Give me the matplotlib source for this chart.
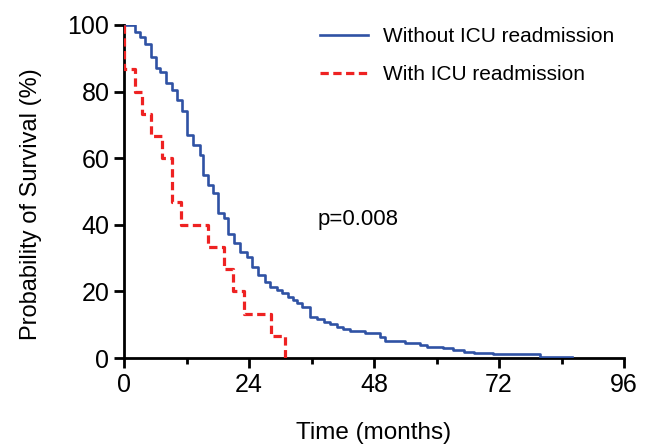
import matplotlib.pyplot as plt

plt.rcParams['font.family'] = ['Liberation Sans', 'DejaVu Sans']

# Kaplan-Meier steps (time in months, survival in %)
t_without = [0, 2.1, 3.1, 4.0, 5.1, 6.1, 7.0, 8.1, 9.2, 10.1, 11.1, 12.0, 13.3, 14.5,
             15.2, 16.2, 17.1, 18.0, 19.1, 20.0, 21.1, 22.3, 23.6, 24.5, 25.8, 27.1,
             28.0, 29.3, 30.3, 31.5, 32.5, 33.2, 34.1, 35.8, 37.0, 38.3, 39.6, 40.8,
             42.1, 43.4, 46.3, 49.2, 50.1, 54.0, 56.8, 58.1, 61.3, 63.2, 65.2, 67.1,
             70.9, 79.9, 86.0]
s_without = [100, 98.0, 96.5, 94.2, 90.5, 87.0, 86.0, 82.7, 80.5, 77.5, 74.3, 67.0, 64.0,
             61.0, 55.0, 52.0, 49.6, 43.4, 42.0, 37.2, 34.4, 31.9, 30.2, 27.2, 24.9,
             22.9, 21.4, 20.4, 19.4, 18.4, 17.4, 16.4, 15.2, 12.4, 11.7, 10.9, 10.2,
             9.4, 8.6, 8.1, 7.4, 6.4, 5.2, 4.6, 3.9, 3.4, 2.9, 2.4, 1.9, 1.4, 1.1, 0.4,
             0.4]

t_with = [0, 0, 2.1, 3.4, 5.1, 7.2, 9.2, 11.0, 16.1, 19.1, 21.0, 23.1, 28.2, 31.0]
s_with = [100, 86.7, 80.0, 73.3, 66.7, 60.0, 46.7, 40.0, 33.3, 26.7, 20.0, 13.3, 6.7, 0]

fig = plt.figure(figsize=(6.47, 4.46), dpi=100)
ax = fig.add_axes([0.1917, 0.1973, 0.7728, 0.7467])

ax.step(t_without, s_without, where='post', color='#2f52a4', lw=1.9,
        label='Without ICU readmission', zorder=3)
ax.step(t_with, s_with, where='post', color='#ee2222', lw=2.3, ls=(0, (2.6, 1.4)),
        label='With ICU readmission', zorder=4)

ax.set_xlim(0, 96)
ax.set_ylim(0, 100)
ax.set_xticks([0, 24, 48, 72, 96])
ax.set_xticks([12, 36, 60, 84], minor=True)
ax.set_yticks([0, 20, 40, 60, 80, 100])
ax.tick_params(axis='both', which='major', length=7, width=2, labelsize=18, direction='out')
ax.tick_params(axis='x', which='minor', length=4, width=2)
for side in ['top', 'right']:
    ax.spines[side].set_visible(False)
for side in ['left', 'bottom']:
    ax.spines[side].set_linewidth(2)
ax.spines['left'].set_zorder(2)

ax.set_xlabel('Time (months)', fontsize=17.5, labelpad=18)
ax.set_ylabel('Probability of Survival (%)', fontsize=17)
ax.yaxis.set_label_coords(-0.164, 0.4625)

ax.text(37.2, 41.7, 'p=0.008', fontsize=16, va='center', ha='left')

ax.legend(loc='upper left', bbox_to_anchor=(0.392, 0.993), frameon=False, fontsize=15,
          handlelength=2.3, handletextpad=0.7, labelspacing=0.9,
          borderpad=0, borderaxespad=0)

plt.savefig('out.png', dpi=100)
